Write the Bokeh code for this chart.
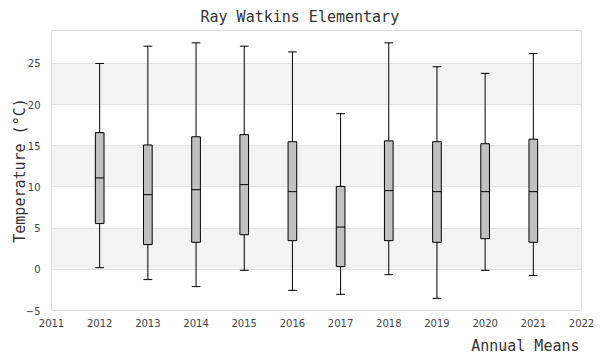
from bokeh.plotting import figure
from bokeh.models import FixedTicker, Title, Range1d
from bokeh.embed import file_html
from bokeh.resources import INLINE

years = [2012, 2013, 2014, 2015, 2016, 2017, 2018, 2019, 2020, 2021]
whisker_high = [25.0, 27.1, 27.5, 27.1, 26.4, 18.9, 27.5, 24.6, 23.8, 26.2]
q3 = [16.6, 15.1, 16.1, 16.35, 15.5, 10.07, 15.6, 15.5, 15.25, 15.8]
median = [11.1, 9.07, 9.67, 10.28, 9.43, 5.13, 9.55, 9.43, 9.43, 9.43]
q1 = [5.55, 3.0, 3.28, 4.2, 3.48, 0.33, 3.48, 3.28, 3.72, 3.28]
whisker_low = [0.2, -1.25, -2.1, -0.12, -2.55, -3.03, -0.65, -3.52, -0.12, -0.77]
x_ticks = list(range(2011, 2023))
y_ticks = [-5, 0, 5, 10, 15, 20, 25]

BOX_W = 0.18
MONO = "DejaVu Sans Mono"

p = figure(width=600, height=360, output_backend="svg", toolbar_location=None,
           x_range=Range1d(2011, 2022), y_range=Range1d(-5, 29),
           min_border_left=51, min_border_right=19, min_border_top=30, min_border_bottom=50)

p.title.text = "Ray Watkins Elementary"
p.title.align = "left"
p.title.offset = 149
p.title.text_font = MONO
p.title.text_font_size = "15px"
p.title.text_font_style = "normal"
p.title.text_color = "#333333"

p.add_layout(Title(text="Annual Means", align="right", text_font=MONO,
                   text_font_size="15px", text_font_style="normal",
                   text_color="#333333", offset=2, standoff=11), "below")
p.add_layout(Title(text="Temperature (°C)", align="center", text_font=MONO,
                   text_font_size="15px", text_font_style="normal",
                   text_color="#333333", standoff=-12), "left")

p.outline_line_color = "#dddddd"
p.xgrid.grid_line_color = None
p.ygrid.grid_line_color = "#e2e2e2"
p.ygrid.band_fill_color = "#f3f3f3"
p.ygrid.band_fill_alpha = 1.0

p.xaxis.ticker = FixedTicker(ticks=x_ticks)
p.yaxis.ticker = FixedTicker(ticks=y_ticks)
for ax in (p.xaxis, p.yaxis):
    ax.axis_line_color = None
    ax.major_tick_line_color = None
    ax.minor_tick_line_color = None
    ax.major_tick_out = 0
    ax.minor_tick_out = 0
    ax.major_tick_in = 0
    ax.minor_tick_in = 0
    ax.major_label_text_font = "DejaVu Sans"
    ax.major_label_text_font_size = "10px"
    ax.major_label_text_color = "#444444"
p.xaxis.major_label_standoff = 8
p.yaxis.major_label_standoff = 11

# whiskers
p.segment(x0=years, y0=whisker_low, x1=years, y1=whisker_high, line_color="black", line_width=1)
cap_l = [y - BOX_W / 2 for y in years]
cap_r = [y + BOX_W / 2 for y in years]
p.segment(x0=cap_l, y0=whisker_high, x1=cap_r, y1=whisker_high, line_color="black", line_width=1)
p.segment(x0=cap_l, y0=whisker_low, x1=cap_r, y1=whisker_low, line_color="black", line_width=1)
# boxes
p.vbar(x=years, width=BOX_W, bottom=q1, top=q3, fill_color="#c0c0c0", line_color="black", line_width=1)
p.segment(x0=cap_l, y0=median, x1=cap_r, y1=median, line_color="black", line_width=1)

open("out.html", "w").write(file_html(p, INLINE))
